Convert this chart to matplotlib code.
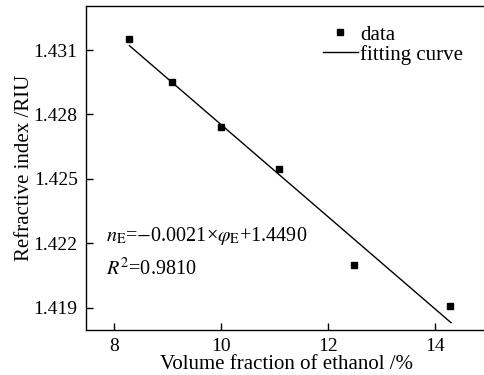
import matplotlib

matplotlib.use("Agg")
import matplotlib.pyplot as plt
from matplotlib.lines import Line2D

# measured points
vol_frac = [8.29, 9.08, 10.0, 11.09, 12.49, 14.29]
ref_index = [1.4315, 1.4295, 1.4274, 1.42548, 1.42098, 1.41906]

# fitted line endpoints
fit_x = [8.29, 14.30]
fit_y = [1.4312, 1.4183]

x_ticks = [8, 10, 12, 14]
y_ticks = [1.419, 1.422, 1.425, 1.428, 1.431]

plt.rcParams["font.family"] = ["Liberation Serif", "DejaVu Serif"]
plt.rcParams["mathtext.fontset"] = "stix"

fig = plt.figure(figsize=(4.84, 3.75), dpi=100)
ax = fig.add_axes([86 / 484, 45 / 375, 400.5 / 484, 324 / 375])

ax.plot(fit_x, fit_y, color="black", lw=1.0)
ax.plot(vol_frac, ref_index, ls="none", marker="s", ms=5, color="black")

ax.set_xlim(7.477, 14.963)
ax.set_ylim(1.41796, 1.43305)
ax.set_xticks(x_ticks)
ax.set_yticks(y_ticks)
ax.set_yticklabels([f"{v:.3f}" for v in y_ticks])
ax.tick_params(direction="in", length=5, width=1, labelsize=14)
ax.tick_params(axis="y", pad=6)
ax.tick_params(axis="x", pad=6)
for sp in ax.spines.values():
    sp.set_linewidth(1.0)

ax.set_xlabel("Volume fraction of ethanol /%", fontsize=15, labelpad=0)
ax.set_ylabel("Refractive index /RIU", fontsize=15, labelpad=-0.5)

ax.text(7.85, 1.42211, r"$n_{\mathrm{E}}$=$-$0.0021×$\varphi_{\mathrm{E}}$+1.4490",
        fontsize=14.5, va="baseline")
ax.text(7.85, 1.42052, r"$R^{2}$=0.9810", fontsize=14.5, va="baseline")

handles = [
    Line2D([], [], ls="none", marker="s", ms=4, color="black"),
    Line2D([], [], color="black", lw=1.0),
]
ax.legend(handles, ["data", "fitting curve"], loc="upper left",
          bbox_to_anchor=(0.57, 0.967), frameon=False, fontsize=15,
          handlelength=1.7, handletextpad=0.1, labelspacing=0.0,
          borderaxespad=0)

fig.savefig("out.png", dpi=100)
